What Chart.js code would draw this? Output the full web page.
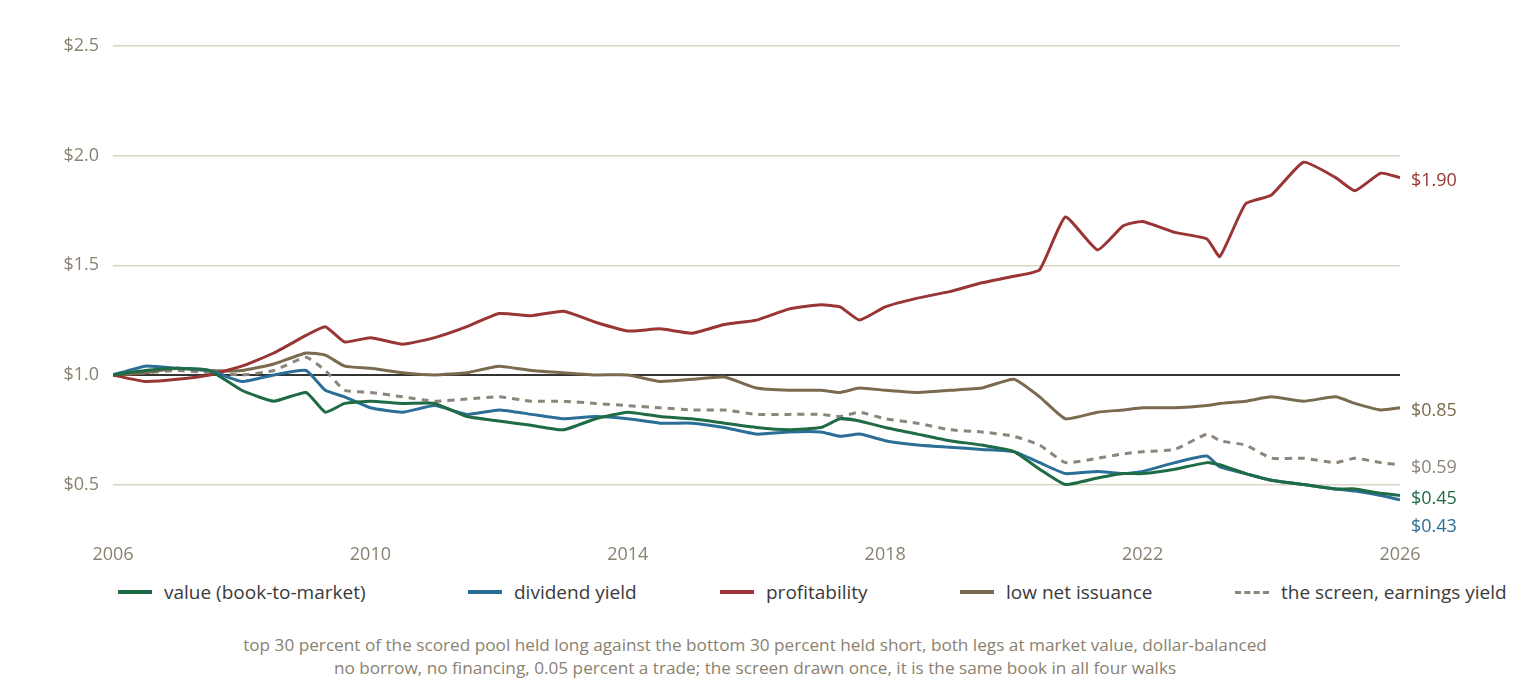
<!DOCTYPE html>
<html><head><meta charset="utf-8">
<script src="https://cdn.jsdelivr.net/npm/chart.js@4"></script>
<style>
body{margin:0;background:#fff;font-family:"Open Sans",sans-serif;color:#8a8270}
#wrap{position:relative;width:1520px;height:574px}
#legend{position:absolute;top:579px;left:0;width:1520px;height:30px;font-size:19px;color:#3a3a3a}
.li{position:absolute;top:0;display:flex;align-items:center}
.sw{width:34px;height:0;border-top:4px solid;margin-right:12px}
#cap{position:absolute;top:633px;width:1520px;text-align:center;font-size:17.2px;line-height:23px;color:#8a8270;left:-5px}
</style></head><body>
<div id="wrap"><canvas id="c"></canvas></div>
<div id="legend"></div>
<div id="cap">top 30 percent of the scored pool held long against the bottom 30 percent held short, both legs at market value, dollar-balanced<br>no borrow, no financing, 0.05 percent a trade; the screen drawn once, it is the same book in all four walks</div>
<script>
const years = [2006,2006.5,2007,2007.5,2008,2008.5,2009,2009.3,2009.6,2010,2010.5,2011,2011.5,2012,2012.5,2013,2013.5,2014,2014.5,2015,2015.5,2016,2016.5,2017,2017.3,2017.6,2018,2018.5,2019,2019.5,2020,2020.4,2020.8,2021.3,2021.7,2022,2022.5,2023,2023.2,2023.6,2024,2024.5,2025,2025.3,2025.7,2026];
const profitability = [1.00,0.97,0.98,1.00,1.04,1.10,1.18,1.22,1.15,1.17,1.14,1.17,1.22,1.28,1.27,1.29,1.24,1.20,1.21,1.19,1.23,1.25,1.30,1.32,1.31,1.25,1.31,1.35,1.38,1.42,1.45,1.48,1.72,1.57,1.68,1.70,1.65,1.62,1.54,1.78,1.82,1.97,1.90,1.84,1.92,1.90];
const netIssuance = [1.00,1.01,1.03,1.02,1.02,1.05,1.10,1.09,1.04,1.03,1.01,1.00,1.01,1.04,1.02,1.01,1.00,1.00,0.97,0.98,0.99,0.94,0.93,0.93,0.92,0.94,0.93,0.92,0.93,0.94,0.98,0.90,0.80,0.83,0.84,0.85,0.85,0.86,0.87,0.88,0.90,0.88,0.90,0.87,0.84,0.85];
const screen = [1.00,1.01,1.02,1.01,1.00,1.02,1.08,1.02,0.93,0.92,0.90,0.88,0.89,0.90,0.88,0.88,0.87,0.86,0.85,0.84,0.84,0.82,0.82,0.82,0.81,0.83,0.80,0.78,0.75,0.74,0.72,0.68,0.60,0.62,0.64,0.65,0.66,0.73,0.70,0.68,0.62,0.62,0.60,0.62,0.60,0.59];
const valueBM = [1.00,1.02,1.03,1.02,0.93,0.88,0.92,0.83,0.87,0.88,0.87,0.87,0.81,0.79,0.77,0.75,0.80,0.83,0.81,0.80,0.78,0.76,0.75,0.76,0.80,0.79,0.76,0.73,0.70,0.68,0.65,0.57,0.50,0.53,0.55,0.55,0.57,0.60,0.59,0.55,0.52,0.50,0.48,0.48,0.46,0.45];
const dividend = [1.00,1.04,1.03,1.02,0.97,1.00,1.02,0.93,0.90,0.85,0.83,0.86,0.82,0.84,0.82,0.80,0.81,0.80,0.78,0.78,0.76,0.73,0.74,0.74,0.72,0.73,0.70,0.68,0.67,0.66,0.65,0.60,0.55,0.56,0.55,0.56,0.60,0.63,0.58,0.55,0.52,0.50,0.48,0.47,0.45,0.43];
const yTicks = [0.5,1.0,1.5,2.0,2.5];
const xTicks = [2006,2010,2014,2018,2022,2026];

const series = [
  {label:"value (book-to-market)", data:valueBM, color:"#1f6b45", end:"$0.45", dy:0},
  {label:"dividend yield", data:dividend, color:"#2b6f98", end:"$0.43", dy:24},
  {label:"profitability", data:profitability, color:"#9a3535", end:"$1.90", dy:0},
  {label:"low net issuance", data:netIssuance, color:"#7a6b50", end:"$0.85", dy:0},
  {label:"the screen, earnings yield", data:screen, color:"#8c857a", end:"$0.59", dy:0, dash:[7,6]}
];
const legendX = [118,468,720,960,1235];
const lg = document.getElementById("legend");
series.forEach((s,i)=>{
  const d = document.createElement("div");
  d.className = "li"; d.style.left = legendX[i]+"px";
  d.innerHTML = `<span class="sw" style="border-top:${s.dash?"3px dashed":"4px solid"} ${s.color}"></span>${s.label}`;
  lg.appendChild(d);
});

const extras = {
  id:"extras",
  beforeDatasetsDraw(chart){
    const {ctx, chartArea:a, scales:{y}} = chart;
    const py = y.getPixelForValue(1.0);
    ctx.save(); ctx.strokeStyle="#333"; ctx.lineWidth=2;
    ctx.beginPath(); ctx.moveTo(a.left,py); ctx.lineTo(a.right,py); ctx.stroke(); ctx.restore();
  },
  afterDatasetsDraw(chart){
    const {ctx, chartArea:a, scales:{y}} = chart;
    ctx.save(); ctx.font = "18px 'Open Sans'"; ctx.textBaseline="middle";
    series.forEach(s=>{
      const v = s.data[s.data.length-1];
      ctx.fillStyle = s.color;
      ctx.fillText(s.end, a.right+11, y.getPixelForValue(v)+s.dy+3);
    });
    ctx.restore();
  }
};

new Chart(document.getElementById("c"), {
  type:"line",
  data:{datasets: series.map(s=>({
    label:s.label, data: years.map((x,i)=>({x, y:s.data[i]})),
    borderColor:s.color, borderWidth:3, borderDash:s.dash||[], pointRadius:0, tension:0.15
  }))},
  options:{
    responsive:true, maintainAspectRatio:false, animation:false,
    layout:{padding:{top:46,right:120,left:0,bottom:0}},
    plugins:{legend:{display:false}, tooltip:{enabled:false}},
    scales:{
      x:{type:"linear", min:2006, max:2026,
        afterBuildTicks:s=>{s.ticks = xTicks.map(v=>({value:v}));},
        grid:{display:false}, border:{display:false},
        ticks:{color:"#8a8270", font:{size:18, family:"Open Sans"}, padding:8, callback:v=>String(v), maxRotation:0}},
      y:{min:0.3, max:2.5,
        afterBuildTicks:s=>{s.ticks = yTicks.map(v=>({value:v}));},
        afterFit:s=>{s.width = 113;},
        grid:{color:"#d9d5c5", lineWidth:1.5, drawTicks:false}, border:{display:false},
        ticks:{color:"#8a8270", font:{size:18, family:"Open Sans"}, padding:14, callback:v=>"$"+v.toFixed(1)}}
    }
  },
  plugins:[extras]
});
</script>
</body></html>
